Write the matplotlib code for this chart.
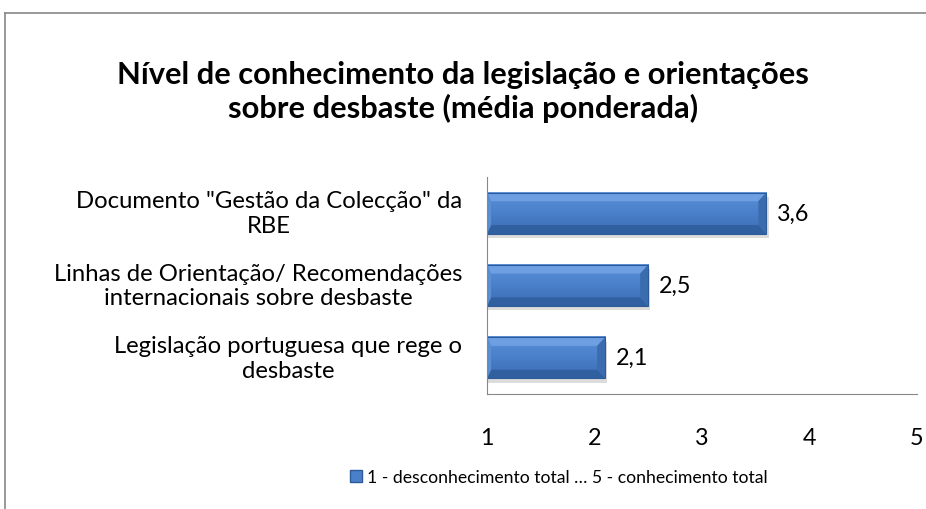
import numpy as np
import matplotlib.pyplot as plt
from matplotlib.lines import Line2D
from matplotlib.patches import Polygon, Rectangle
from matplotlib.colors import LinearSegmentedColormap

plt.rcParams['font.family'] = ['Lato', 'DejaVu Sans']

# data
categories = ['Legislação portuguesa que rege o\ndesbaste',
              'Linhas de Orientação/ Recomendações\ninternacionais sobre desbaste',
              'Documento "Gestão da Colecção" da\nRBE']
values = [2.1, 2.5, 3.6]
value_labels = ['2,1', '2,5', '3,6']
x_ticks = [1, 2, 3, 4, 5]
legend_label = '1 - desconhecimento total … 5 - conhecimento total'

fig = plt.figure(figsize=(9.26, 5.10), dpi=100)
ax = fig.add_axes([0.526, 0.2255, 0.464, 0.4255])

y = np.arange(len(categories))
bars = ax.barh(y, np.array(values) - 1, left=1, height=0.57, color='none',
               edgecolor='#2c5b98', linewidth=0.8, zorder=5)

# bevel look: gradient face, light top, dark bottom and right end, soft shadow
face = LinearSegmentedColormap.from_list('face', ['#3a6cb2', '#4a80ca', '#5a90d8'])
grad = np.linspace(0, 1, 64).reshape(-1, 1)
bx, by = 0.075, 0.12
for b in bars:
    x0, y0 = b.get_x(), b.get_y()
    x1, y1 = x0 + b.get_width(), y0 + b.get_height()
    ax.add_patch(Rectangle((x0, y0 - 0.06), x1 - x0 + 0.02, y1 - y0, color='#dcdcdc',
                           lw=0, zorder=2))
    ax.imshow(grad, cmap=face, aspect='auto', origin='lower',
              extent=[x0, x1, y0, y1], zorder=3)
    ax.add_patch(Polygon([(x0, y1), (x1, y1), (x1 - bx, y1 - by), (x0 + bx * 0.5, y1 - by)],
                         closed=True, color='#6e9fe2', lw=0, zorder=4))
    ax.add_patch(Polygon([(x0, y0), (x1, y0), (x1 - bx, y0 + by), (x0 + bx * 0.5, y0 + by)],
                         closed=True, color='#30609f', lw=0, zorder=4))
    ax.add_patch(Polygon([(x1, y0), (x1, y1), (x1 - bx, y1 - by), (x1 - bx, y0 + by)],
                         closed=True, color='#3b6cb0', lw=0, zorder=4))
    ax.add_patch(Polygon([(x0, y0), (x0, y1), (x0 + bx * 0.5, y1 - by), (x0 + bx * 0.5, y0 + by)],
                         closed=True, color='#5a8fd6', lw=0, zorder=4))

for yi, v, t in zip(y, values, value_labels):
    ax.text(v + 0.1, yi, t, va='center', ha='left', fontsize=16.8)

# category labels, lines centred within each label
for yi, c in zip(y, categories):
    ax.annotate(c, xy=(0, yi), xycoords=('axes fraction', 'data'),
                xytext=(-18, 0), textcoords='offset points',
                ha='right', va='center', multialignment='center', fontsize=17.2)

ax.set_xlim(1, 5)
ax.set_ylim(-0.5, 2.5)
ax.set_xticks(x_ticks)
ax.set_xticklabels([str(t) for t in x_ticks], fontsize=16.8)
ax.set_yticks([])
ax.tick_params(length=0)
ax.tick_params(axis='x', pad=24)
for s in ['top', 'right']:
    ax.spines[s].set_visible(False)
ax.spines['left'].set_color('#888888')
ax.spines['bottom'].set_color('#888888')
ax.spines['left'].set_zorder(6)

fig.text(0.5, 0.82, 'Nível de conhecimento da legislação e orientações\nsobre desbaste (média ponderada)',
         ha='center', va='center', fontsize=22.2, fontweight='bold', linespacing=1.2)

# legend
fig.legend(handles=[Line2D([], [], marker='s', linestyle='none', markersize=9,
                           markerfacecolor='#4a80ca', markeredgecolor='#2c5b98')],
           labels=[legend_label], loc='center', bbox_to_anchor=(0.603, 0.063),
           frameon=False, fontsize=12.7, handletextpad=0.2, handlelength=0.8)

# outer border (cropped at right and bottom)
fig.add_artist(Line2D([5 / 926, 1], [1 - 14 / 510, 1 - 14 / 510], color='#888888', lw=1.2,
                      transform=fig.transFigure))
fig.add_artist(Line2D([5 / 926, 5 / 926], [0, 1 - 14 / 510], color='#888888', lw=1.2,
                      transform=fig.transFigure))

fig.savefig('out.png', dpi=100)
